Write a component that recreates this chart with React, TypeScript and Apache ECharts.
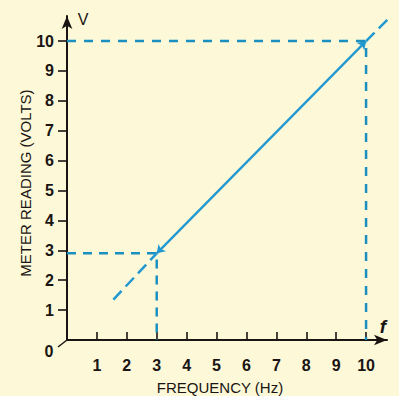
import React, { useEffect, useRef } from "react";
import * as echarts from "echarts";

const xTickValues = [1, 2, 3, 4, 5, 6, 7, 8, 9, 10];
const yTickValues = [1, 2, 3, 4, 5, 6, 7, 8, 9, 10];
const solidSegment = [[3, 2.9], [10, 10]];
const lowerExtension = [[1.55, 1.35], [3, 2.9]];
const upperExtension = [[10, 10], [11.25, 11.25]];
const guideLow = [[0, 2.9], [3, 2.9], [3, 0]];
const guideHigh = [[0, 10], [10, 10], [10, 0]];

const INK = "#1a1512";
const BLUE = "#2298d0";
const DASH = "#1b8fc0";
const BG = "#fcf8d8";
const FONT = "'Liberation Sans', Arial, sans-serif";

export default function App() {
  const ref = useRef<HTMLDivElement>(null);
  useEffect(() => {
    if (!ref.current) return;
    const chart = echarts.init(ref.current, null, { renderer: "svg" });
    chart.setOption({
      animation: false,
      backgroundColor: BG,
      grid: { left: 67, right: 12, top: 16, bottom: 56, containLabel: false },
      xAxis: {
        type: "value",
        min: 0,
        max: 10.7,
        interval: 1,
        splitLine: { show: false },
        axisLine: {
          lineStyle: { color: INK, width: 2 },
          symbol: ["none", "arrow"],
          symbolSize: [8, 13],
        },
        axisTick: { inside: true, length: 8, lineStyle: { color: INK, width: 1.6 }, customValues: xTickValues },
        axisLabel: { customValues: xTickValues, margin: 17, color: INK, fontSize: 16, fontFamily: FONT, fontWeight: "bold" },
      },
      yAxis: {
        type: "value",
        min: 0,
        max: 10.84,
        interval: 1,
        splitLine: { show: false },
        axisLine: {
          lineStyle: { color: INK, width: 2 },
          symbol: ["none", "arrow"],
          symbolSize: [8, 13],
        },
        axisTick: { inside: false, length: 9, lineStyle: { color: INK, width: 1.6 }, customValues: yTickValues },
        axisLabel: { customValues: yTickValues, margin: 13, color: INK, fontSize: 16, fontFamily: FONT, fontWeight: "bold" },
      },
      series: [
        {
          type: "line",
          data: guideHigh,
          symbol: "none",
          lineStyle: { color: DASH, width: 2.5, type: [9, 8] },
        },
        {
          type: "line",
          data: guideLow,
          symbol: "none",
          lineStyle: { color: DASH, width: 2.5, type: [9, 7] },
        },
        {
          type: "line",
          data: lowerExtension,
          symbol: "none",
          lineStyle: { color: BLUE, width: 2.5, type: [12, 6] },
        },
        {
          type: "line",
          data: upperExtension,
          symbol: "none",
          clip: false,
          lineStyle: { color: BLUE, width: 2.5, type: [12, 6] },
        },
        {
          type: "lines",
          coordinateSystem: "cartesian2d",
          symbol: ["arrow", "arrow"],
          symbolSize: 8,
          data: [{ coords: solidSegment }],
          lineStyle: { color: BLUE, width: 2.3, opacity: 1 },
        },
      ],
      graphic: [
        {
          type: "text",
          x: 25,
          y: 183,
          rotation: Math.PI / 2,
          style: {
            text: "METER READING (VOLTS)",
            fill: INK,
            font: `15px ${FONT}`,
            align: "center",
            verticalAlign: "middle",
          },
        },
        {
          type: "text",
          x: 220,
          y: 387,
          style: {
            text: "FREQUENCY (Hz)",
            fill: INK,
            font: `15px ${FONT}`,
            align: "center",
            verticalAlign: "middle",
          },
        },
        {
          type: "text",
          x: 83,
          y: 19,
          style: { text: "V", fill: INK, font: `16px ${FONT}`, align: "center", verticalAlign: "middle" },
        },
        {
          type: "text",
          x: 383,
          y: 326,
          style: { text: "f", fill: INK, font: `italic bold 19px ${FONT}`, align: "center", verticalAlign: "middle" },
        },
        {
          type: "text",
          x: 49,
          y: 351,
          style: { text: "0", fill: INK, font: `bold 16px ${FONT}`, align: "center", verticalAlign: "middle" },
        },
        {
          type: "line",
          shape: { x1: 58, y1: 347, x2: 67, y2: 340 },
          style: { stroke: INK, lineWidth: 1.5 },
        },
      ],
    });
    return () => chart.dispose();
  }, []);
  return (
    <div
      ref={ref}
      style={{ position: "fixed", left: 0, top: 0, width: 399, height: 396, background: BG }}
    />
  );
}
